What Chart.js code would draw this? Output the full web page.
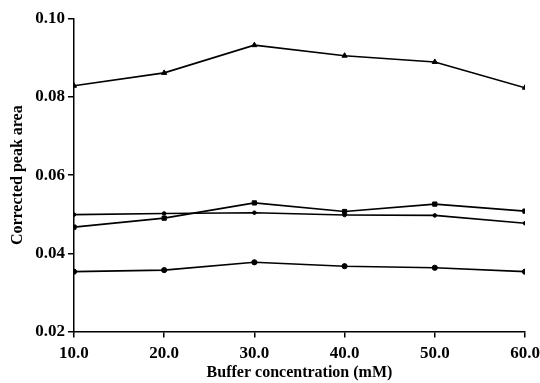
<!DOCTYPE html>
<html>
<head>
<meta charset="utf-8">
<script src="https://cdn.jsdelivr.net/npm/chart.js@4"></script>
<style>
  html, body { margin: 0; padding: 0; background: #fff; }
  #wrap { width: 540px; height: 383px; }
</style>
</head>
<body>
<div id="wrap"><canvas id="chart"></canvas></div>
<script>
// buffer concentration (mM)
const concentrations = [10, 20, 30, 40, 50, 60];

// corrected peak areas, one list per marker
const triangleSeries = [0.0829, 0.0862, 0.0933, 0.0906, 0.0890, 0.0824];
const squareSeries = [0.0467, 0.0490, 0.0529, 0.0507, 0.0526, 0.0508];
const diamondSeries = [0.0499, 0.0502, 0.0504, 0.0498, 0.0497, 0.0477];
const circleSeries = [0.0353, 0.0357, 0.0377, 0.0367, 0.0363, 0.0353];

const xTicks = [10, 20, 30, 40, 50, 60];
const yTicks = [0.02, 0.04, 0.06, 0.08, 0.10];

const toPoints = (ys) => concentrations.map((x, i) => ({ x: x, y: ys[i] }));

const lineSet = (ys, style, radius) => ({
    data: toPoints(ys),
    borderColor: '#000',
    backgroundColor: '#000',
    borderWidth: 1.6,
    pointStyle: style,
    pointRadius: radius,
    pointBorderWidth: 1,
    tension: 0,
    fill: false
});

const serif = "'Liberation Serif', 'DejaVu Serif', serif";

new Chart(document.getElementById('chart').getContext('2d'), {
    type: 'line',
    data: {
        datasets: [
            lineSet(triangleSeries, 'triangle', 3),
            lineSet(squareSeries, 'rect', 3),
            lineSet(diamondSeries, 'circle', 1.8),
            lineSet(circleSeries, 'circle', 2.6)
        ]
    },
    options: {
        responsive: true,
        maintainAspectRatio: false,
        animation: false,
        layout: { padding: { top: 19, right: 0, left: 8, bottom: 1 } },
        plugins: {
            legend: { display: false },
            tooltip: { enabled: false }
        },
        scales: {
            x: {
                type: 'linear',
                min: 10,
                max: 60,
                afterBuildTicks: (axis) => { axis.ticks = xTicks.map(v => ({ value: v })); },
                // the last label runs to the canvas edge in the original
                afterFit: (axis) => { axis.paddingRight = 15; },
                grid: { drawOnChartArea: false, drawTicks: true, tickLength: 6, color: '#000', lineWidth: 1.5 },
                border: { color: '#000', width: 1.5 },
                ticks: {
                    color: '#000',
                    maxRotation: 0,
                    padding: 6,
                    font: { family: serif, size: 17, weight: 'bold' },
                    callback: (v) => Number(v).toFixed(1)
                },
                title: {
                    display: true,
                    text: 'Buffer concentration (mM)',
                    color: '#000',
                    padding: { top: -7, bottom: 0 },
                    font: { family: serif, size: 16, weight: 'bold' }
                }
            },
            y: {
                min: 0.02,
                max: 0.10,
                afterBuildTicks: (axis) => { axis.ticks = yTicks.map(v => ({ value: v })); },
                grid: { drawOnChartArea: false, drawTicks: true, tickLength: 6, color: '#000', lineWidth: 1.5 },
                border: { color: '#000', width: 1.5 },
                ticks: {
                    color: '#000',
                    padding: 3,
                    font: { family: serif, size: 17, weight: 'bold' },
                    callback: (v) => Number(v).toFixed(2)
                },
                title: {
                    display: true,
                    text: 'Corrected peak area',
                    color: '#000',
                    padding: { top: 0, bottom: 5 },
                    font: { family: serif, size: 16, weight: 'bold' }
                }
            }
        }
    }
});
</script>
</body>
</html>
